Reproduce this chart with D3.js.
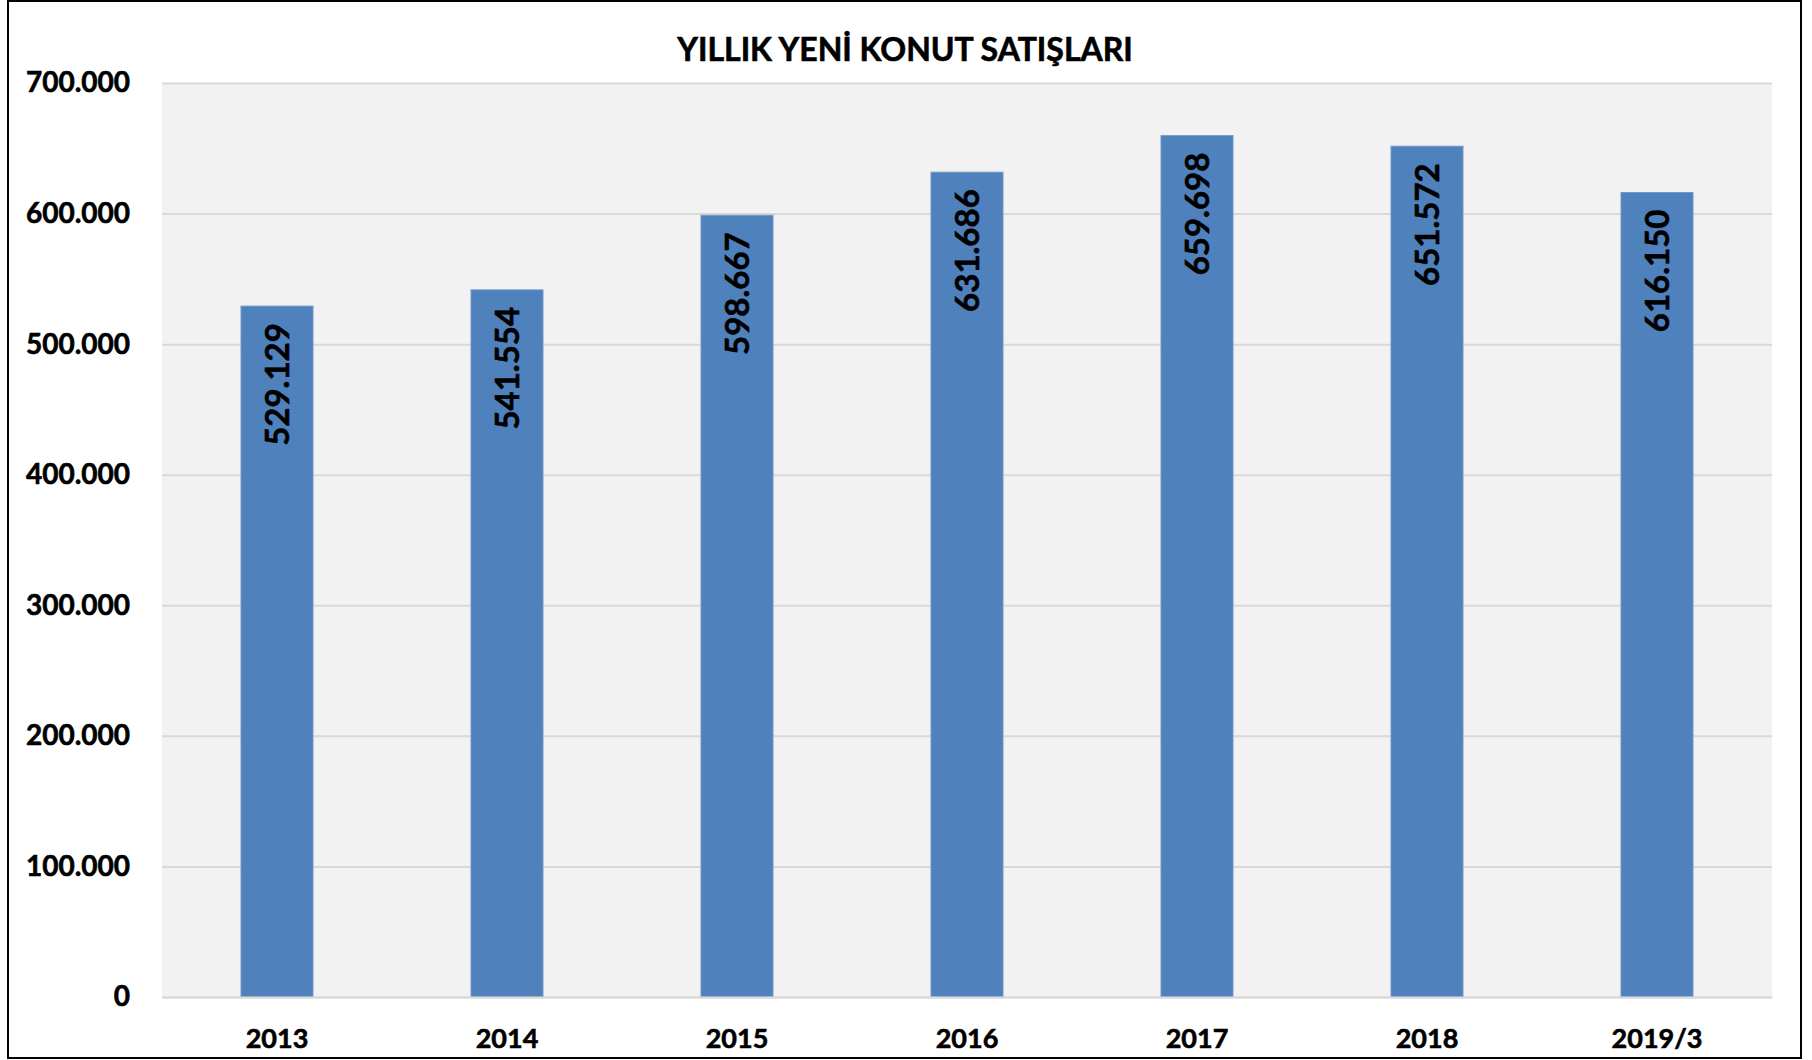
<!DOCTYPE html>
<html>
<head>
<meta charset="utf-8">
<script src="https://cdn.jsdelivr.net/npm/d3@7"></script>
<style>
  body { margin: 0; background: #fff; }
  svg { display: block; font-family: Lato, "Open Sans", sans-serif; }
  text { stroke: #000; stroke-width: 0.6px; }
</style>
</head>
<body>
<div id="chart"></div>
<script>
// chart data
const years = ["2013", "2014", "2015", "2016", "2017", "2018", "2019/3"];
const sales = [529129, 541554, 598667, 631686, 659698, 651572, 616150];
const yTicks = [0, 100000, 200000, 300000, 400000, 500000, 600000, 700000];
const title = "YILLIK YENİ KONUT SATIŞLARI";

const width = 1812;
const height = 1060;
const margin = {left: 162, right: 40, top: 83, bottom: 63};

// Turkish style thousands separator
const fmt = d3.formatLocale({decimal: ",", thousands: ".", grouping: [3], currency: ["", ""]}).format(",d");

const svg = d3.select("#chart")
  .append("svg")
  .attr("width", width)
  .attr("height", height);

// outer frame
svg.append("rect")
  .attr("x", 8).attr("y", 1)
  .attr("width", 1793).attr("height", 1057)
  .attr("fill", "#fff")
  .attr("stroke", "#000")
  .attr("stroke-width", 2);

const xScale = d3.scaleBand()
  .domain(years)
  .range([margin.left, width - margin.right])
  .paddingInner(0.687)
  .paddingOuter(0.3435);

const yScale = d3.scaleLinear()
  .domain([0, 700000])
  .range([height - margin.bottom, margin.top]);

// plot area background
svg.append("rect")
  .attr("x", margin.left)
  .attr("y", margin.top)
  .attr("width", width - margin.right - margin.left)
  .attr("height", (height - margin.bottom) - margin.top)
  .attr("fill", "#f2f2f2");

// gridlines + y labels
const yAxis = svg.append("g")
  .attr("transform", `translate(${margin.left},0)`)
  .call(d3.axisLeft(yScale)
    .tickValues(yTicks)
    .tickSize(-(width - margin.right - margin.left))
    .tickPadding(32)
    .tickFormat(fmt));
yAxis.select(".domain").remove();
yAxis.selectAll("line").attr("stroke", "#d9d9d9").attr("stroke-width", 2);
yAxis.selectAll("text")
  .attr("font-size", "28px")
  .attr("font-weight", "bold")
  .attr("font-family", "Lato, sans-serif")
  .attr("fill", "#000");

// bars
svg.selectAll(".bar")
  .data(sales)
  .enter()
  .append("rect")
    .attr("class", "bar")
    .attr("x", (d, i) => xScale(years[i]))
    .attr("y", d => yScale(d))
    .attr("width", xScale.bandwidth())
    .attr("height", d => yScale(0) - yScale(d))
    .attr("fill", "#4f81bd")
    .attr("stroke", "#6f98cb")
    .attr("stroke-width", 1);

// value labels, rotated inside the bar end
svg.selectAll(".label")
  .data(sales)
  .enter()
  .append("text")
    .attr("class", "label")
    .attr("transform", (d, i) => `translate(${xScale(years[i]) + xScale.bandwidth() / 2 + 12},${yScale(d) + 17}) rotate(-90)`)
    .attr("text-anchor", "end")
    .attr("font-size", "33px")
    .attr("font-weight", "bold")
    .attr("fill", "#000")
    .text(d => fmt(d));

// x axis
const xAxis = svg.append("g")
  .attr("transform", `translate(0,${height - margin.bottom})`)
  .call(d3.axisBottom(xScale).tickSize(0).tickPadding(32));
xAxis.select(".domain").attr("stroke", "#d9d9d9").attr("stroke-width", 2);
xAxis.selectAll("text")
  .attr("font-size", "27px")
  .attr("font-weight", "bold")
  .attr("font-family", "Lato, sans-serif")
  .attr("fill", "#000");

// title
svg.append("text")
  .attr("x", 905)
  .attr("y", 61)
  .attr("text-anchor", "middle")
  .attr("font-size", "32px")
  .attr("font-weight", "bold")
  .attr("fill", "#000")
  .text(title);
</script>
</body>
</html>
